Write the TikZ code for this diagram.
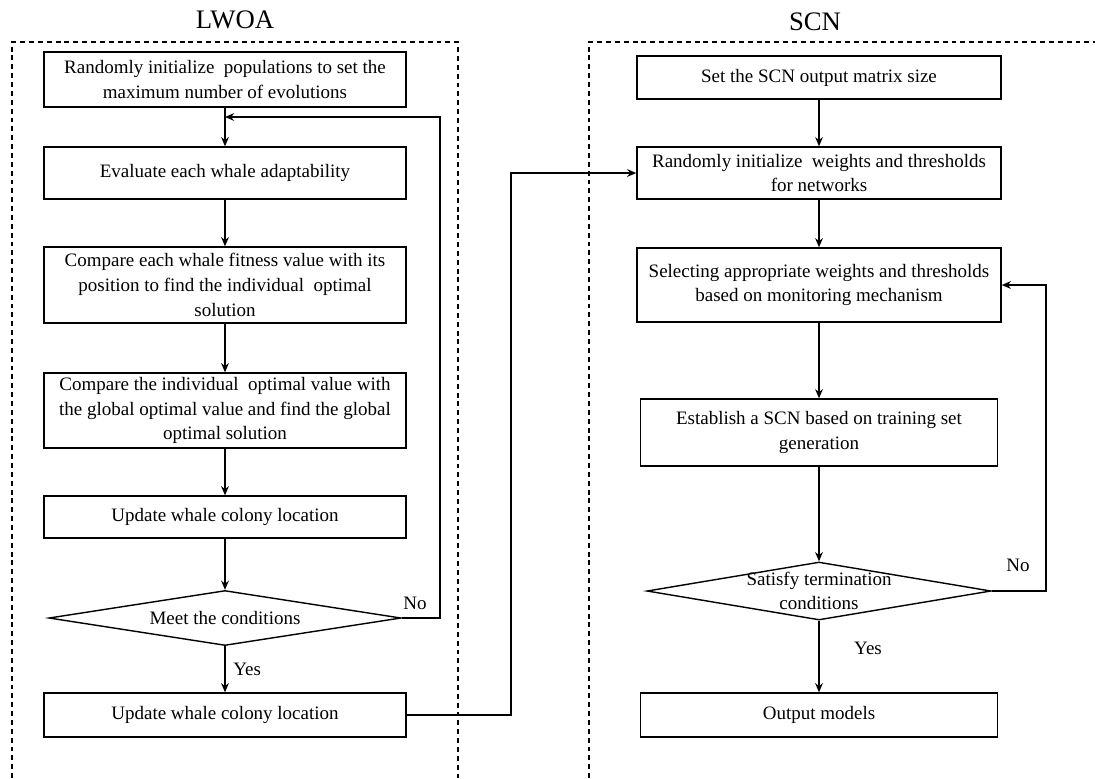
\documentclass[tikz,border=0pt]{standalone}
\usepackage{fontspec}
\setmainfont{Liberation Serif}
\usetikzlibrary{shapes.geometric,arrows.meta}

\begin{document}
\begin{tikzpicture}[x=0.025cm,y=-0.025cm,
  stepbox/.style={draw,line width=1pt,minimum width=9.05cm,align=center,
    font=\fontsize{13.5}{17.5}\selectfont,inner sep=2pt},
  decision/.style={draw,line width=1pt,diamond,minimum width=8.8cm,inner sep=0pt},
  lbl/.style={font=\fontsize{13.5}{17.5}\selectfont},
  arr/.style={-{Stealth[length=6.5pt,width=5.5pt]},line width=1.2pt},
  frame/.style={line width=0.9pt,dash pattern=on 3.5pt off 2.8pt}]
  \useasboundingbox (0,0) rectangle (1095,778);

  % Titles and dashed frames
  \node[font=\fontsize{19}{21}\selectfont] (tl) at (235,20) {LWOA};
  \node[font=\fontsize{19}{21}\selectfont] (tr) at (815,22) {SCN};
  \draw[frame] (12,778) -- (12,42) -- (458,42) -- (458,778);
  \draw[frame] (589,778) -- (589,42) -- (1095,42);

  % LWOA side
  \node[stepbox,minimum height=1.375cm] (b1) at (225,79.5)
    {Randomly initialize\ \ populations to set the\\maximum number of evolutions};
  \node[stepbox,minimum height=1.3cm] (b2) at (225,173) {Evaluate each whale adaptability};
  \node[stepbox,minimum height=1.9cm] (b3) at (225,285)
    {Compare each whale fitness value with its\\position to find the individual\ \ optimal\\solution};
  \node[stepbox,minimum height=1.875cm] (b4) at (225,410.5)
    {Compare the individual\ \ optimal value with\\the global optimal value and find the global\\optimal solution};
  \node[stepbox,minimum height=1.05cm] (b5) at (225,517) {Update whale colony location};
  \node[decision,minimum height=1.375cm] (d1) at (225,618) {};
  \node[lbl] (d1t) at (d1) {Meet the conditions};
  \node[stepbox,minimum height=1.1cm] (b6) at (225,715) {Update whale colony location};
  \coordinate (j1) at (225,117);

  \draw[arr] (b1) -- (b2);
  \draw[arr] (b2) -- (b3);
  \draw[arr] (b3) -- (b4);
  \draw[arr] (b4) -- (b5);
  \draw[arr] (b5) -- (d1);
  \draw[arr] (d1) -- node[lbl,right=2pt] (yl) {Yes} (b6);
  \draw[arr] (d1.east) -- ++(38,0) |- (j1);
  \node[lbl] (nl) at (415,603) {No};

  % SCN side
  \node[stepbox,minimum width=9.1cm,minimum height=1.075cm] (r1) at (819,77.5)
    {Set the SCN output matrix size};
  \node[stepbox,minimum width=9.1cm,minimum height=1.3cm] (r2) at (819,173)
    {Randomly initialize\ \ weights and thresholds\\for networks};
  \node[stepbox,minimum width=9.1cm,minimum height=1.85cm] (r3) at (819,285)
    {Selecting\ appropriate weights and thresholds\\based on monitoring mechanism};
  \node[stepbox,minimum width=8.925cm,minimum height=1.675cm] (r4) at (819,432.5)
    {Establish a SCN based on training\ set\\generation};
  \node[decision,minimum width=8.6cm,minimum height=1.45cm] (d2) at (819,591) {};
  \node[lbl,align=center] (d2t) at (d2) {Satisfy termination\\conditions};
  \node[stepbox,minimum width=8.925cm,minimum height=1.1cm] (r5) at (819,715) {Output models};

  \draw[arr] (r1) -- (r2);
  \draw[arr] (r2) -- (r3);
  \draw[arr] (r3) -- (r4);
  \draw[arr] (r4) -- (d2);
  \draw[arr] (d2) -- (r5);
  \node[lbl] (yr) at (868,648) {Yes};
  \draw[arr] (d2.east) -- ++(54,0) |- (r3.east);
  \node[lbl] (nr) at (1018,565) {No};

  % link between the two parts
  \draw[arr] (b6.east) -- ++(104,0) |- (r2.west);
\end{tikzpicture}
\end{document}
